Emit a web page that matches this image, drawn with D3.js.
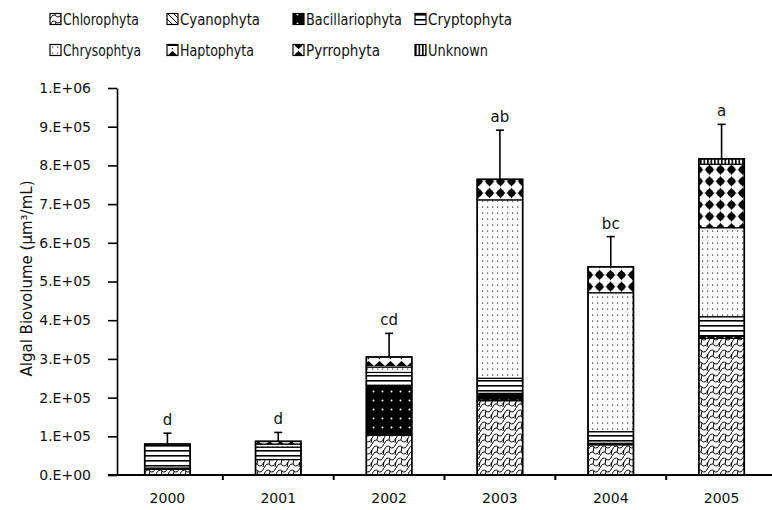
<!DOCTYPE html>
<html><head><meta charset="utf-8">
<script src="https://cdn.jsdelivr.net/npm/d3@7"></script>
<style>
html,body{margin:0;padding:0;background:#fff;}
svg{display:block;}
text{font-family:"DejaVu Sans",sans-serif;fill:#111;}
</style></head>
<body>
<svg id="chart" width="772" height="510"></svg>
<script>
// ---- data ----
const years = ["2000","2001","2002","2003","2004","2005"];
const groups = ["Chlorophyta","Cyanophyta","Bacillariophyta","Cryptophyta","Chrysophtya","Haptophyta","Pyrrophyta","Unknown"];
const chlorophyta     = [15000, 40000, 103000, 192000, 78000, 353000];
const cyanophyta      = [0, 0, 0, 0, 0, 0];
const bacillariophyta = [3000, 0, 129000, 19000, 4000, 6000];
const cryptophyta     = [62000, 32000, 33000, 39000, 30000, 50000];
const chrysophtya     = [0, 8000, 14000, 461000, 359000, 230000];
const haptophyta      = [0, 7000, 26000, 0, 0, 0];
const pyrrophyta      = [0, 0, 0, 53000, 67000, 164000];
const unknown         = [0, 0, 0, 0, 0, 14000];
const errorUp         = [28000, 23000, 61000, 127000, 78000, 89000];
const letters         = ["d","d","cd","ab","bc","a"];
const yTickValues     = [0,100000,200000,300000,400000,500000,600000,700000,800000,900000,1000000];
const yTickLabels     = ["0.E+00","1.E+05","2.E+05","3.E+05","4.E+05","5.E+05","6.E+05","7.E+05","8.E+05","9.E+05","1.E+06"];
const yTitle = "Algal Biovolume (\u00B5m\u00B3/mL)";

const seriesValues = [chlorophyta, cyanophyta, bacillariophyta, cryptophyta, chrysophtya, haptophyta, pyrrophyta, unknown];
const table = years.map((yr, i) => {
  const row = {year: yr};
  groups.forEach((g, k) => row[g] = seriesValues[k][i]);
  return row;
});

const svg = d3.select("#chart");
const defs = svg.append("defs");

// ---- patterns ----
function pat(id, w, h, draw) {
  const p = defs.append("pattern").attr("id", id).attr("patternUnits","userSpaceOnUse")
    .attr("width", w).attr("height", h);
  draw(p);
}
pat("p-chloro", 12, 12, p => {
  p.append("rect").attr("width",12).attr("height",12).attr("fill","#fff");
  p.append("path").attr("d","M0 6 Q3 0 6 3 Q9 6 12 0 M0 12 Q3 6 6 9 Q9 12 12 6 M6 3 L5 8 M0 6 L-1 11 M12 6 L11 11")
    .attr("fill","none").attr("stroke","#000").attr("stroke-width",1);
});
pat("p-cyano", 6, 6, p => {
  p.append("rect").attr("width",6).attr("height",6).attr("fill","#fff");
  p.append("path").attr("d","M0 0 L6 6 M-1 5 L1 7 M5 -1 L7 1").attr("stroke","#000").attr("stroke-width",1);
});
pat("p-bacil", 9, 9, p => {
  p.append("rect").attr("width",9).attr("height",9).attr("fill","#000");
  p.append("circle").attr("cx",4.5).attr("cy",4.5).attr("r",1).attr("fill","#fff");
});
pat("p-crypto", 5, 5, p => {
  p.append("rect").attr("width",5).attr("height",5).attr("fill","#fff");
  p.append("rect").attr("y",0).attr("width",5).attr("height",1.6).attr("fill","#000");
});
pat("p-chryso", 5, 6, p => {
  p.append("rect").attr("width",5).attr("height",6).attr("fill","#fff");
  p.append("rect").attr("x",2).attr("y",2.5).attr("width",1.2).attr("height",1.2).attr("fill","#333");
});
pat("p-hapto", 11, 10, p => {
  p.append("rect").attr("width",11).attr("height",10).attr("fill","#fff");
  p.append("path").attr("d","M0 6 L5.5 1 L11 6 Z").attr("fill","#000");
  p.append("rect").attr("x",4.8).attr("y",8).attr("width",1.2).attr("height",1.2).attr("fill","#000");
});
pat("p-pyrro", 11, 11.7, p => {
  p.append("rect").attr("width",11).attr("height",11.7).attr("fill","#fff");
  p.append("circle").attr("cx",5.5).attr("cy",5.85).attr("r",3.6).attr("fill","#000");
  p.append("path").attr("d","M5.5 0.6 L9 5.85 L5.5 11.1 L2 5.85 Z M0.3 5.85 L5.5 3 L10.7 5.85 L5.5 8.7 Z").attr("fill","#000");
});
pat("p-unknown", 3.5, 6, p => {
  p.append("rect").attr("width",3.5).attr("height",6).attr("fill","#fff");
  p.append("rect").attr("x",0).attr("width",1.6).attr("height",6).attr("fill","#000");
});
const patIds = ["p-chloro","p-cyano","p-bacil","p-crypto","p-chryso","p-hapto","p-pyrro","p-unknown"];
const fillScale = d3.scaleOrdinal().domain(groups).range(patIds.map(id => `url(#${id})`));

// ---- scales ----
const x = d3.scaleBand().domain(years).range([112, 777]).paddingInner(0.59).paddingOuter(0.295);
const y = d3.scaleLinear().domain([0, 1000000]).range([475, 88]);
const axisX0 = 117;

// ---- stacked bars ----
const stack = d3.stack().keys(groups);
const stacked = stack(table);
const layer = svg.append("g").selectAll("g").data(stacked).join("g")
  .attr("fill", d => fillScale(d.key));
layer.selectAll("rect").data(d => d.map(s => ({s, key: d.key})))
  .join("rect")
  .filter(d => d.s[1] - d.s[0] > 0)
  .attr("x", d => x(d.s.data.year))
  .attr("width", x.bandwidth())
  .attr("y", d => y(d.s[1]))
  .attr("height", d => y(d.s[0]) - y(d.s[1]))
  .attr("stroke", "#000").attr("stroke-width", 1.2);

// totals outline
const totals = table.map(r => d3.sum(groups, g => r[g]));
svg.append("g").selectAll("rect").data(years).join("rect")
  .attr("x", d => x(d)).attr("width", x.bandwidth())
  .attr("y", (d,i) => y(totals[i])).attr("height", (d,i) => y(0) - y(totals[i]))
  .attr("fill","none").attr("stroke","#000").attr("stroke-width",1.6);

// error bars
const eb = svg.append("g").attr("stroke","#000").attr("stroke-width",1.6);
years.forEach((yr, i) => {
  const cx = x(yr) + x.bandwidth()/2;
  eb.append("line").attr("x1",cx).attr("x2",cx).attr("y1",y(totals[i])).attr("y2",y(totals[i]+errorUp[i]));
  eb.append("line").attr("x1",cx-4).attr("x2",cx+4).attr("y1",y(totals[i]+errorUp[i])).attr("y2",y(totals[i]+errorUp[i]));
});
svg.append("g").selectAll("text").data(years).join("text")
  .attr("x", d => x(d) + x.bandwidth()/2)
  .attr("y", (d,i) => y(totals[i]+errorUp[i]) - 8)
  .attr("text-anchor","middle").attr("font-size",15)
  .text((d,i) => letters[i]);

// ---- axes ----
const yAxis = d3.axisLeft(y).tickValues(yTickValues).tickFormat((d,i) => yTickLabels[i]).tickSize(9).tickSizeOuter(0).tickPadding(17);
const gy = svg.append("g").attr("transform",`translate(${axisX0},0)`).call(yAxis);
gy.select(".domain").attr("stroke-width",1.6);
gy.selectAll(".tick line").attr("stroke-width",1.6);
gy.selectAll(".tick text").attr("font-size",14).attr("font-family",'"DejaVu Sans",sans-serif').attr("fill","#111");

svg.append("line").attr("x1", axisX0 - 9).attr("x2", 772).attr("y1", y(0)).attr("y2", y(0))
  .attr("stroke","#000").attr("stroke-width",1.8);
// category separator ticks
const seps = years.slice(1).map(d => x(d) - x.step()*x.paddingInner()/2);
svg.append("g").selectAll("line").data(seps).join("line")
  .attr("x1", d => d).attr("x2", d => d).attr("y1", y(0)).attr("y2", y(0)+5)
  .attr("stroke","#000").attr("stroke-width",2);
svg.append("g").selectAll("text").data(years).join("text")
  .attr("x", d => x(d) + x.bandwidth()/2).attr("y", 503)
  .attr("text-anchor","middle").attr("font-size",14).text(d => d);

// y title
svg.append("text").attr("transform", `translate(32,${(y(0)+y(1000000))/2 - 3}) rotate(-90)`)
  .attr("text-anchor","middle").attr("font-size",15)
  .attr("textLength",196).attr("lengthAdjust","spacingAndGlyphs").text(yTitle);

// ---- legend ----
const legX = [50, 167, 293, 415];
const legY = [19, 50];
const legW = [76, 80, 96, 84, 78, 74, 74, 60];
const lg = svg.append("g");
groups.forEach((g, k) => {
  const col = k % 4, row = Math.floor(k / 4);
  const gg = lg.append("g").attr("transform", `translate(${legX[col]},${legY[row]})`);
  gg.append("rect").attr("x",0).attr("y",-5.5).attr("width",11).attr("height",11)
    .attr("fill", fillScale(g)).attr("stroke","#000").attr("stroke-width",1.2);
  gg.append("text").attr("x",13).attr("y",0).attr("dy","0.36em").attr("font-size",16)
    .attr("textLength", legW[k]).attr("lengthAdjust","spacingAndGlyphs").text(g);
});
</script>
</body></html>
